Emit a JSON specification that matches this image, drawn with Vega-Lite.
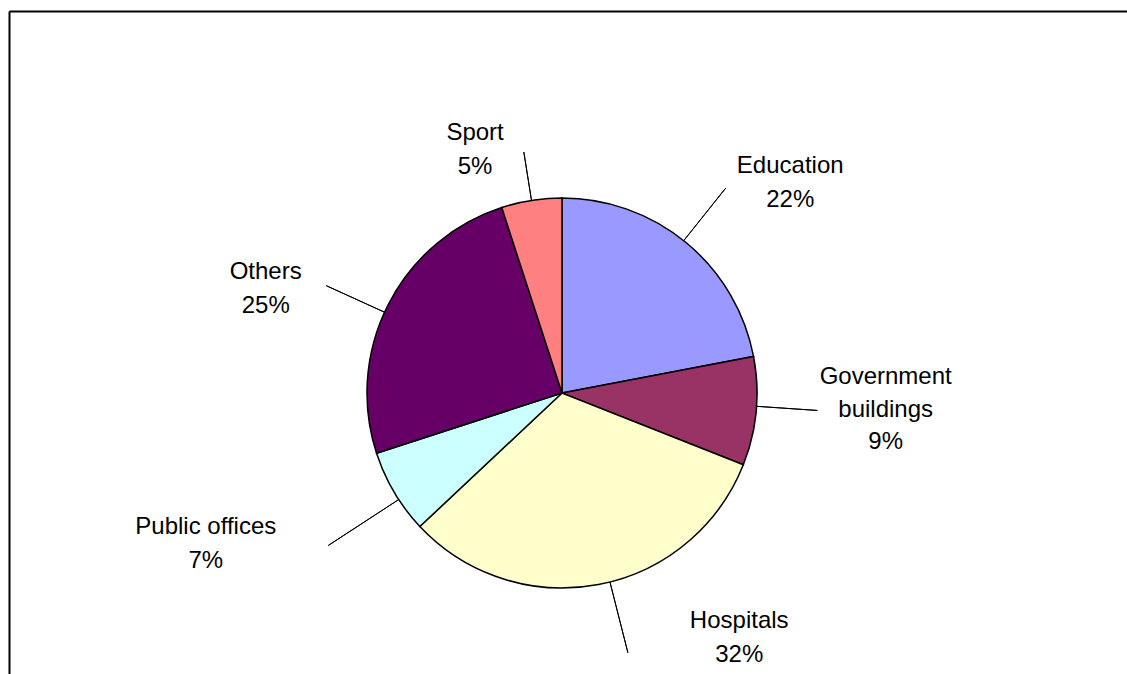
{
  "$schema": "https://vega.github.io/schema/vega-lite/v6.json",
  "width": 1118,
  "height": 663,
  "autosize": {"type": "none"},
  "padding": {"left": 9, "top": 11, "right": 0, "bottom": 0},
  "background": "white",
  "config": {"view": {"stroke": null}},
  "data": {
    "values": [
      {"category": "Education", "value": 22, "rank": 1, "label": "Education\n22%"},
      {"category": "Government buildings", "value": 9, "rank": 2, "label": "Government\nbuildings\n9%"},
      {"category": "Hospitals", "value": 32, "rank": 3, "label": "Hospitals\n32%"},
      {"category": "Public offices", "value": 7, "rank": 4, "label": "Public offices\n7%"},
      {"category": "Others", "value": 25, "rank": 5, "label": "Others\n25%"},
      {"category": "Sport", "value": 5, "rank": 6, "label": "Sport\n5%"}
    ]
  },
  "layer": [
    {
      "mark": {"type": "point", "opacity": 0},
      "encoding": {
        "x": {"datum": 0, "type": "quantitative", "axis": {"orient": "top", "domain": true, "domainColor": "black", "domainWidth": 2, "ticks": false, "labels": false, "title": null, "grid": false}},
        "y": {"datum": 0, "type": "quantitative", "axis": {"orient": "left", "domain": true, "domainColor": "black", "domainWidth": 2, "ticks": false, "labels": false, "title": null, "grid": false}}
      }
    },
    {
      "encoding": {
        "theta": {"field": "value", "type": "quantitative", "stack": true},
        "order": {"field": "rank", "type": "quantitative"},
        "detail": {"field": "category", "type": "nominal"}
      },
      "layer": [
        {
          "mark": {"type": "arc", "outerRadius": 195, "stroke": "black", "strokeWidth": 1.5, "xOffset": -6, "yOffset": 50.5},
          "encoding": {
            "color": {
              "field": "category",
              "type": "nominal",
              "scale": {
                "domain": ["Education", "Government buildings", "Hospitals", "Public offices", "Others", "Sport"],
                "range": ["#9999FF", "#993366", "#FFFFCC", "#CCFFFF", "#660066", "#FF8080"]
              },
              "legend": null
            }
          }
        },
        {
          "mark": {"type": "arc", "innerRadius": 195, "outerRadius": 244, "padAngle": 3.1, "filled": false, "stroke": "black", "strokeWidth": 1, "xOffset": -6, "yOffset": 50.5},
          "encoding": {"strokeOpacity": {"condition": {"test": "datum.category === 'Sport'", "value": 1}, "value": 0}}
        },
        {
          "mark": {"type": "arc", "innerRadius": 195, "outerRadius": 262, "padAngle": 3.1, "thetaOffset": -0.017, "theta2Offset": -0.017, "filled": false, "stroke": "black", "strokeWidth": 1, "xOffset": -6, "yOffset": 50.5},
          "encoding": {"strokeOpacity": {"condition": {"test": "datum.category === 'Education'", "value": 1}, "value": 0}}
        },
        {
          "mark": {"type": "arc", "innerRadius": 195, "outerRadius": 256, "padAngle": 3.1, "thetaOffset": -0.026, "theta2Offset": -0.026, "filled": false, "stroke": "black", "strokeWidth": 1, "xOffset": -6, "yOffset": 50.5},
          "encoding": {"strokeOpacity": {"condition": {"test": "datum.category === 'Government buildings'", "value": 1}, "value": 0}}
        },
        {
          "mark": {"type": "arc", "innerRadius": 195, "outerRadius": 268, "padAngle": 3.1, "thetaOffset": -0.06, "theta2Offset": -0.06, "filled": false, "stroke": "black", "strokeWidth": 1, "xOffset": -6, "yOffset": 50.5},
          "encoding": {"strokeOpacity": {"condition": {"test": "datum.category === 'Hospitals'", "value": 1}, "value": 0}}
        },
        {
          "mark": {"type": "arc", "innerRadius": 195, "outerRadius": 279, "padAngle": 3.1, "thetaOffset": -0.044, "theta2Offset": -0.044, "filled": false, "stroke": "black", "strokeWidth": 1, "xOffset": -6, "yOffset": 50.5},
          "encoding": {"strokeOpacity": {"condition": {"test": "datum.category === 'Public offices'", "value": 1}, "value": 0}}
        },
        {
          "mark": {"type": "arc", "innerRadius": 195, "outerRadius": 259, "padAngle": 3.1, "thetaOffset": -0.044, "theta2Offset": -0.044, "filled": false, "stroke": "black", "strokeWidth": 1, "xOffset": -6, "yOffset": 50.5},
          "encoding": {"strokeOpacity": {"condition": {"test": "datum.category === 'Others'", "value": 1}, "value": 0}}
        },
        {
          "mark": {"type": "text", "radius": 300, "dx": 31, "dy": 54.5, "font": "Liberation Sans", "fontSize": 24, "lineHeight": 34, "lineBreak": "\n", "align": "center", "baseline": "middle", "fill": "black"},
          "encoding": {"text": {"condition": {"test": "datum.category === 'Education'", "field": "label"}, "value": ""}}
        },
        {
          "mark": {"type": "text", "radius": 300, "dx": 19, "dy": 6.5, "font": "Liberation Sans", "fontSize": 24, "lineHeight": 32.5, "lineBreak": "\n", "align": "center", "baseline": "middle", "fill": "black"},
          "encoding": {"text": {"condition": {"test": "datum.category === 'Government buildings'", "field": "label"}, "value": ""}}
        },
        {
          "mark": {"type": "text", "radius": 300, "dx": 115, "dy": -16.5, "font": "Liberation Sans", "fontSize": 24, "lineHeight": 34, "lineBreak": "\n", "align": "center", "baseline": "middle", "fill": "black"},
          "encoding": {"text": {"condition": {"test": "datum.category === 'Hospitals'", "field": "label"}, "value": ""}}
        },
        {
          "mark": {"type": "text", "radius": 300, "dx": -104, "dy": 31.5, "font": "Liberation Sans", "fontSize": 24, "lineHeight": 34, "lineBreak": "\n", "align": "center", "baseline": "middle", "fill": "black"},
          "encoding": {"text": {"condition": {"test": "datum.category === 'Public offices'", "field": "label"}, "value": ""}}
        },
        {
          "mark": {"type": "text", "radius": 300, "dx": -35, "dy": 65.5, "font": "Liberation Sans", "fontSize": 24, "lineHeight": 34, "lineBreak": "\n", "align": "center", "baseline": "middle", "fill": "black"},
          "encoding": {"text": {"condition": {"test": "datum.category === 'Others'", "field": "label"}, "value": ""}}
        },
        {
          "mark": {"type": "text", "radius": 300, "dx": -46, "dy": 86.5, "font": "Liberation Sans", "fontSize": 24, "lineHeight": 34, "lineBreak": "\n", "align": "center", "baseline": "middle", "fill": "black"},
          "encoding": {"text": {"condition": {"test": "datum.category === 'Sport'", "field": "label"}, "value": ""}}
        }
      ]
    }
  ]
}
